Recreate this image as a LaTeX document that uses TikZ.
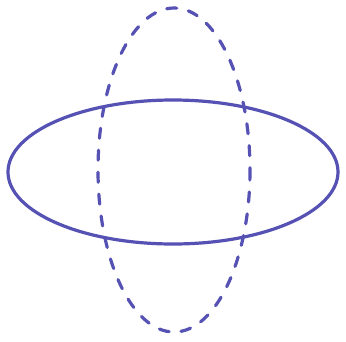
\documentclass[tikz,border=0pt]{standalone}
\definecolor{penblue}{HTML}{5552B4}
\begin{document}
\begin{tikzpicture}[x=1pt,y=-1pt]
    \useasboundingbox (0,0) rectangle (346,341);

    % The flat ring
    \draw[penblue,line width=3.2pt] (173,172) ellipse (165 and 72);

    % The upright ring, dashed
    \draw[penblue,line width=3.2pt,line cap=round,dash pattern=on 10pt off 12pt]
        (174,170) ellipse (76 and 162);
\end{tikzpicture}
\end{document}
